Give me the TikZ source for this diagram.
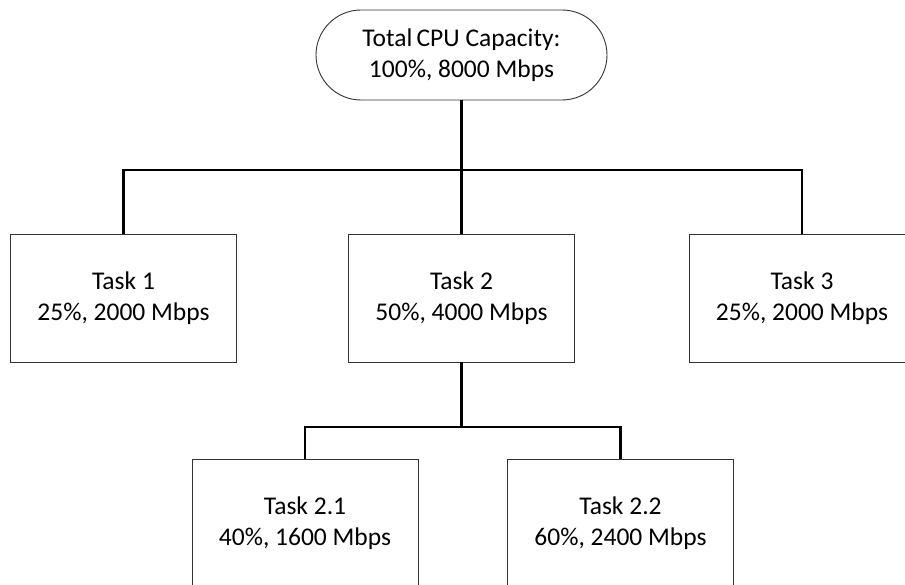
\documentclass[tikz,border=0pt]{standalone}
\usepackage{fontspec}
\setmainfont{Carlito}
\begin{document}
\begin{tikzpicture}[x=1pt,y=-1pt,
  box/.style={draw=black!80, line width=0.9pt, fill=white, minimum width=226pt, minimum height=128pt, inner sep=0pt, align=center, font=\fontsize{25.5}{31}\selectfont},
  capbox/.style={draw=black!80, line width=0.9pt, fill=white, minimum width=291pt, minimum height=90pt, rounded corners=45pt, inner sep=0pt, align=center, font=\fontsize{25.5}{31}\selectfont},
  conn/.style={draw=black, line width=2.4pt}]
\useasboundingbox (0,0) rectangle (905,585);
\clip (0,0) rectangle (905,585);
\node[capbox] (top) at (461.5,55) {Total\,CPU Capacity:\\100\%, 8000 Mbps};
\coordinate (j1) at (461.5,170);
\coordinate (j2) at (461.5,427);
\node[box] (t1) at (123.5,298) {Task 1\\25\%, 2000 Mbps};
\node[box] (t2) at (461.5,298) {Task 2\\50\%, 4000 Mbps};
\node[box] (t3) at (802,298) {Task 3\\25\%, 2000 Mbps};
\node[box] (t21) at (305,523) {Task 2.1\\40\%, 1600 Mbps};
\node[box] (t22) at (620.5,523) {Task 2.2\\60\%, 2400 Mbps};
\draw[conn] (top.south) -- (j1);
\draw[conn] (j1) -| (t1.north);
\draw[conn] (j1) -| (t3.north);
\draw[conn] (j1) -- (t2.north);
\draw[conn] (t2.south) -- (j2);
\draw[conn] (j2) -| (t21.north);
\draw[conn] (j2) -| (t22.north);
\end{tikzpicture}
\end{document}
